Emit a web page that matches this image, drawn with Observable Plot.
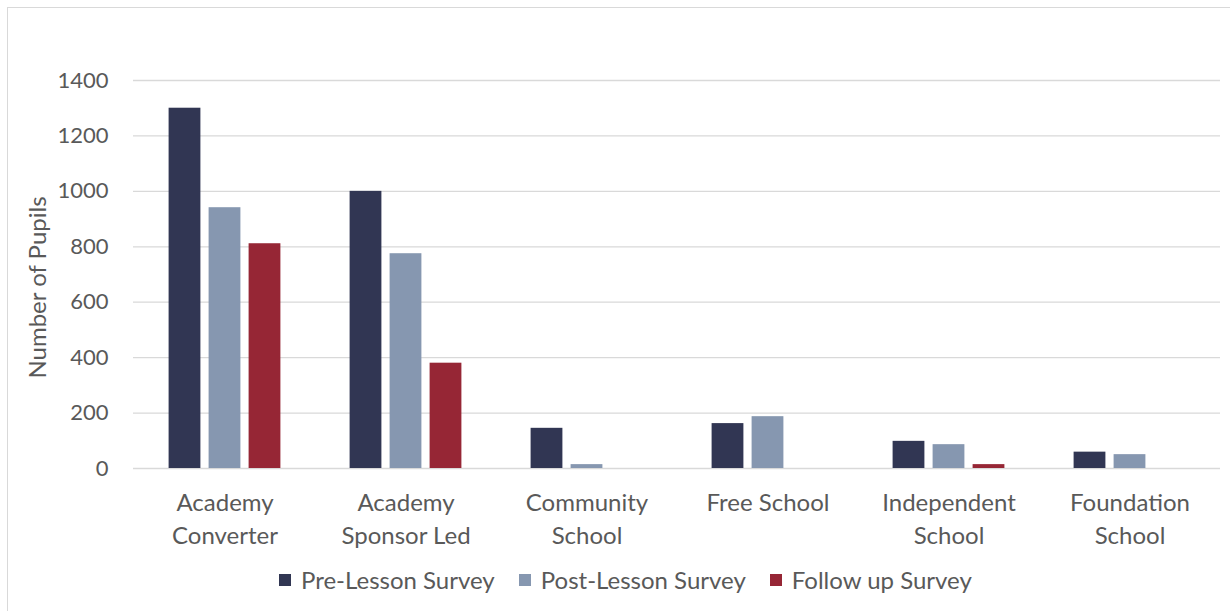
<!DOCTYPE html>
<html>
<head>
<meta charset="utf-8">
<script src="https://cdn.jsdelivr.net/npm/d3@7"></script>
<script src="https://cdn.jsdelivr.net/npm/@observablehq/plot@0.6"></script>
<style>
  html, body { margin: 0; padding: 0; background: #fff; overflow: hidden; width: 1230px; height: 611px; }
  #frame { position: absolute; left: 7px; top: 7px; width: 1240px; height: 620px; border: 1px solid #d9d9d9; box-sizing: border-box; }
  #chart { position: absolute; left: 0; top: 0; }
  #legend { position: absolute; left: 279px; top: 565px; display: flex; align-items: center; font-family: Lato, sans-serif; font-size: 24px; color: #595959; white-space: nowrap; }
  #legend .item { display: flex; align-items: center; margin-right: 24px; }
  #legend .sw { width: 12px; height: 12px; margin-right: 10px; }
</style>
</head>
<body>
<div id="frame"></div>
<div id="chart"></div>
<div id="legend"></div>
<script>
const categories = ["Academy Converter", "Academy Sponsor Led", "Community School", "Free School", "Independent School", "Foundation School"];
const categoryLabels = ["Academy\nConverter", "Academy\nSponsor Led", "Community\nSchool", "Free School", "Independent\nSchool", "Foundation\nSchool"];
const series = ["Pre-Lesson Survey", "Post-Lesson Survey", "Follow up Survey"];
const preLesson = [1300, 1000, 145, 162, 98, 59];
const postLesson = [941, 775, 14, 187, 86, 50];
const followUp = [811, 380, 0, 0, 14, 0];
const yTicks = [0, 200, 400, 600, 800, 1000, 1200, 1400];
const seriesColors = ["#313653", "#8697b0", "#962635"];

const values = [preLesson, postLesson, followUp];
const rows = [];
series.forEach((s, si) => categories.forEach((c, ci) => rows.push({category: c, series: s, value: values[si][ci]})));
const labelOf = new Map(categories.map((c, i) => [c, categoryLabels[i]]));

const offsets = [-40, 0, 40];
const barInset = 74.6;

const chart = Plot.plot({
  width: 1230,
  height: 560,
  marginLeft: 133,
  marginRight: 10,
  marginTop: 80,
  marginBottom: 92,
  style: {fontFamily: "Lato, sans-serif", color: "#595959", background: "transparent"},
  x: {domain: categories, padding: 0, axis: null},
  y: {domain: [0, 1400], axis: null},
  color: {domain: series, range: seriesColors},
  marks: [
    Plot.ruleY(yTicks, {stroke: "#d9d9d9", strokeWidth: 1.3}),
    ...series.map((s, i) => Plot.barY(rows.filter(r => r.series === s), {
      x: "category", y: "value", fill: "series",
      insetLeft: barInset, insetRight: barInset, dx: offsets[i]
    })),
    Plot.axisY({ticks: yTicks, tickSize: 0, tickPadding: 25, fontSize: 22, tickFormat: d => String(d), label: null}),
    Plot.text(categories, {x: d => d, text: d => labelOf.get(d), frameAnchor: "bottom", lineAnchor: "top", dy: 19.5, lineHeight: 1.375, fontSize: 24, fill: "#595959"}),
    Plot.text(["Number of Pupils"], {frameAnchor: "left", text: d => d, rotate: -90, textAnchor: "middle", dx: -95, dy: 13, fontSize: 24, fill: "#595959"})
  ]
});
document.getElementById("chart").appendChild(chart);

const legend = document.getElementById("legend");
series.forEach((s, i) => {
  const item = document.createElement("div");
  item.className = "item";
  const sw = document.createElement("span");
  sw.className = "sw";
  sw.style.background = seriesColors[i];
  const t = document.createElement("span");
  t.textContent = s;
  item.appendChild(sw);
  item.appendChild(t);
  legend.appendChild(item);
});
</script>
</body>
</html>
